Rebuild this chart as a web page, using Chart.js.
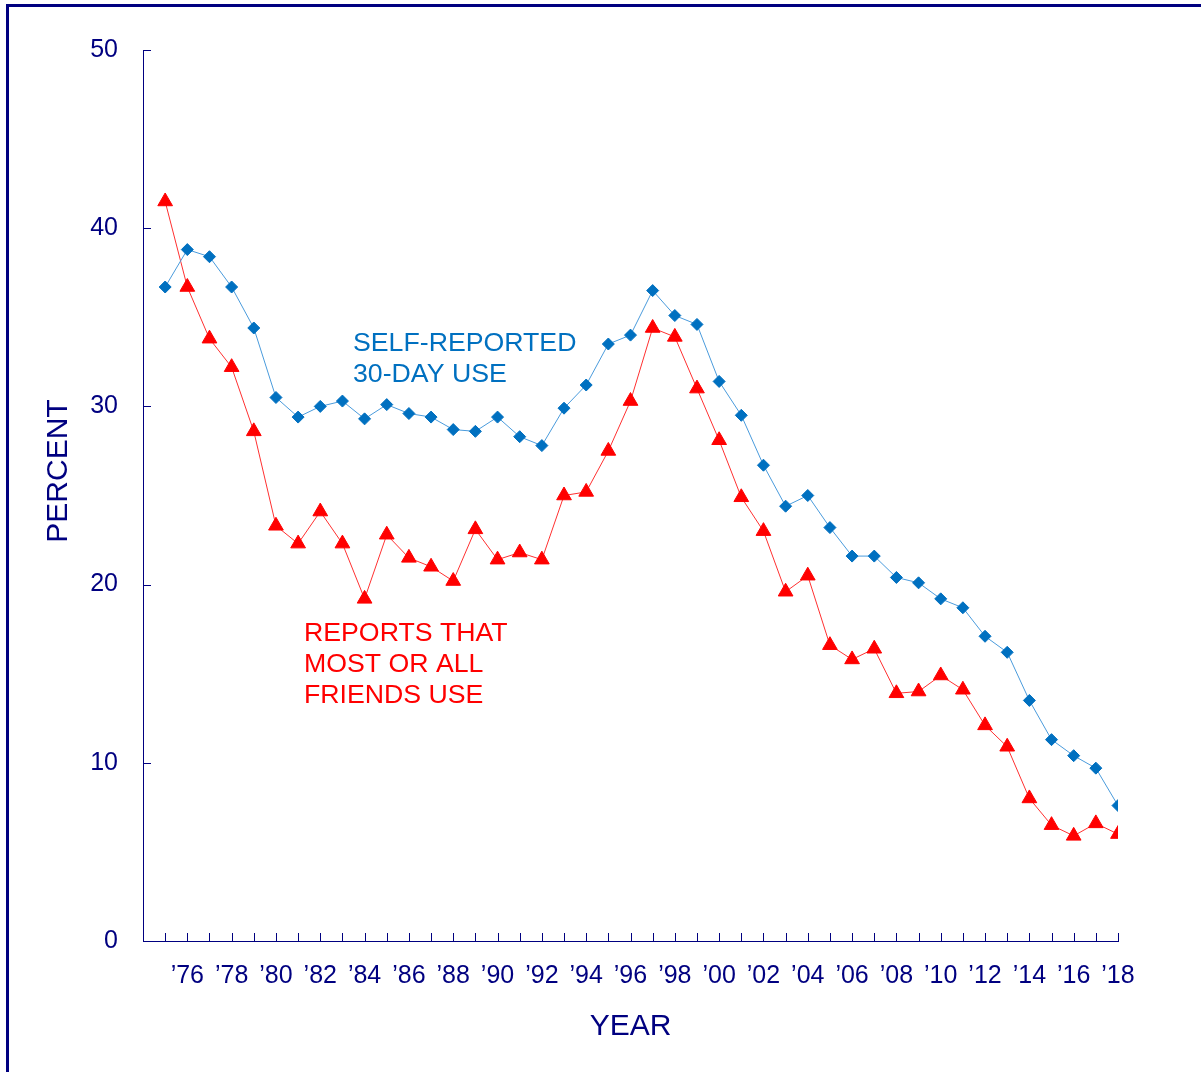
<!DOCTYPE html>
<html lang="en">

<head>
    <meta charset="UTF-8">
    <script src="https://cdn.jsdelivr.net/npm/chart.js"></script>
    <title>Percent by year</title>
    <style>
        html, body { margin: 0; padding: 0; background: #fff; overflow: hidden; }
        .frame {
            position: absolute; left: 6px; top: 4px;
            width: 1400px; height: 1300px;
            border: 3px solid #000080;
            box-sizing: border-box;
        }
        #chart { position: absolute; left: 0; top: 0; }
    </style>
</head>

<body>
    <div class="frame"></div>
    <canvas id="chart" width="1201" height="1072"></canvas>
</body>

</html>

<script>
    // data, one value per year
    const years = [1975, 1976, 1977, 1978, 1979, 1980, 1981, 1982, 1983, 1984,
        1985, 1986, 1987, 1988, 1989, 1990, 1991, 1992, 1993, 1994,
        1995, 1996, 1997, 1998, 1999, 2000, 2001, 2002, 2003, 2004,
        2005, 2006, 2007, 2008, 2009, 2010, 2011, 2012, 2013, 2014,
        2015, 2016, 2017, 2018];

    const selfReported = [36.7, 38.8, 38.4, 36.7, 34.4, 30.5, 29.4, 30.0, 30.3, 29.3,
        30.1, 29.6, 29.4, 28.7, 28.6, 29.4, 28.3, 27.8, 29.9, 31.2,
        33.5, 34.0, 36.5, 35.1, 34.6, 31.4, 29.5, 26.7, 24.4, 25.0,
        23.2, 21.6, 21.6, 20.4, 20.1, 19.2, 18.7, 17.1, 16.2, 13.5,
        11.3, 10.4, 9.7, 7.6];

    const friendsUse = [41.5, 36.7, 33.8, 32.2, 28.6, 23.3, 22.3, 24.1, 22.3, 19.2,
        22.8, 21.5, 21.0, 20.2, 23.1, 21.4, 21.8, 21.4, 25.0, 25.2,
        27.5, 30.3, 34.4, 33.9, 31.0, 28.1, 24.9, 23.0, 19.6, 20.5,
        16.6, 15.8, 16.4, 13.9, 14.0, 14.9, 14.1, 12.1, 10.9, 8.0,
        6.5, 5.9, 6.6, 6.0];

    const yTicks = [0, 10, 20, 30, 40, 50];
    const yearLabels = ['\u201976', '\u201978', '\u201980', '\u201982', '\u201984', '\u201986', '\u201988', '\u201990',
        '\u201992', '\u201994', '\u201996', '\u201998', '\u201900', '\u201902', '\u201904', '\u201906',
        '\u201908', '\u201910', '\u201912', '\u201914', '\u201916', '\u201918'];
    const labelledYears = [1976, 1978, 1980, 1982, 1984, 1986, 1988, 1990, 1992, 1994, 1996,
        1998, 2000, 2002, 2004, 2006, 2008, 2010, 2012, 2014, 2016, 2018];

    const NAVY = '#000080';
    const FONT = "'Liberation Sans', Arial, sans-serif";

    // ticks point inwards and the labels sit inside the plot, drawn here
    const extras = {
        id: 'extras',
        afterDraw(chart) {
            const { ctx, chartArea: a, scales: { x, y } } = chart;
            ctx.save();
            ctx.strokeStyle = NAVY;
            ctx.lineWidth = 1;
            ctx.beginPath();
            years.forEach(yr => {
                const px = Math.round(x.getPixelForValue(yr)) + 0.5;
                ctx.moveTo(px, a.bottom);
                ctx.lineTo(px, a.bottom - 8);
            });
            yTicks.forEach(v => {
                const py = Math.round(y.getPixelForValue(v)) + 0.5;
                ctx.moveTo(a.left, py);
                ctx.lineTo(a.left + 8, py);
            });
            ctx.stroke();

            ctx.textAlign = 'left';
            ctx.textBaseline = 'alphabetic';
            ctx.font = '26.7px ' + FONT;
            ctx.fillStyle = '#0070C0';
            ctx.fillText('SELF-REPORTED', 353, 351);
            ctx.fillText('30-DAY USE', 353, 382);

            ctx.fillStyle = '#FF0000';
            ctx.fillText('REPORTS THAT', 304, 641);
            ctx.fillText('MOST OR ALL', 304, 672);
            ctx.fillText('FRIENDS USE', 304, 703);

            ctx.fillStyle = NAVY;
            ctx.font = '30px ' + FONT;
            ctx.translate(59, 471);
            ctx.rotate(-Math.PI / 2);
            ctx.textAlign = 'center';
            ctx.textBaseline = 'middle';
            ctx.fillText('PERCENT', 0, 0);
            ctx.restore();
        }
    };

    const ctxChart = document.getElementById('chart');

    new Chart(ctxChart, {
        type: 'line',
        data: {
            datasets: [{
                label: 'Self-reported 30-day use',
                data: years.map((yr, i) => ({ x: yr, y: selfReported[i] })),
                borderColor: '#4A9BDC',
                borderWidth: 1,
                pointStyle: 'rectRot',
                pointRadius: 6,
                pointBackgroundColor: '#0070C0',
                pointBorderColor: '#0070C0',
                pointBorderWidth: 1,
                tension: 0
            },
            {
                label: 'Reports that most or all friends use',
                data: years.map((yr, i) => ({ x: yr, y: friendsUse[i] })),
                borderColor: '#FF3030',
                borderWidth: 1,
                pointStyle: 'triangle',
                pointRadius: 8.5,
                pointBackgroundColor: '#FF0000',
                pointBorderColor: '#FF0000',
                pointBorderWidth: 1,
                tension: 0
            }]
        },
        options: {
            responsive: false,
            animation: false,
            events: [],
            layout: {
                padding: { top: 50, right: 83, left: 0, bottom: 0 }
            },
            plugins: {
                legend: { display: false },
                tooltip: { enabled: false }
            },
            scales: {
                x: {
                    type: 'linear',
                    min: 1974,
                    max: 2018,
                    afterFit: s => { s.height = 131; },
                    grid: { display: false, drawTicks: false },
                    border: { color: NAVY, width: 1 },
                    ticks: {
                        stepSize: 1,
                        autoSkip: false,
                        maxRotation: 0,
                        padding: 20,
                        color: NAVY,
                        font: { family: FONT, size: 25 },
                        callback: v => {
                            const i = labelledYears.indexOf(v);
                            return i >= 0 ? yearLabels[i] : '';
                        }
                    },
                    title: {
                        display: true,
                        text: 'YEAR',
                        color: NAVY,
                        font: { family: FONT, size: 30 },
                        padding: { top: 0, bottom: 27 }
                    }
                },
                y: {
                    min: 0,
                    max: 50,
                    afterFit: s => { s.width = 143; },
                    grid: { display: false, drawTicks: false },
                    border: { color: NAVY, width: 1 },
                    ticks: {
                        stepSize: 10,
                        padding: 25,
                        color: NAVY,
                        font: { family: FONT, size: 25 }
                    }
                }
            }
        },
        plugins: [extras]
    });
</script>
